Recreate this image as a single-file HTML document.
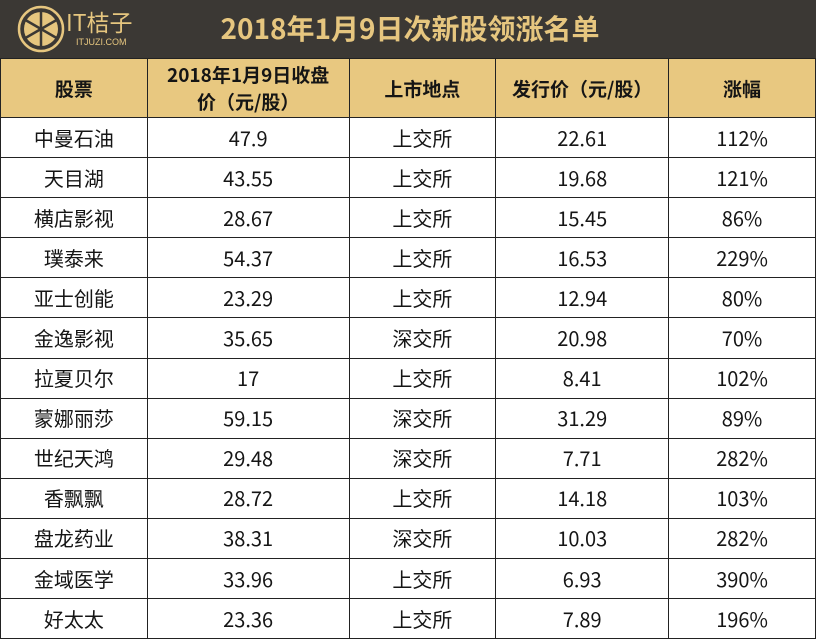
<!DOCTYPE html>
<html><head><meta charset="utf-8"><style>
*{margin:0;padding:0;box-sizing:border-box}
body{width:818px;height:641px;background:#fff;position:relative;overflow:hidden;font-family:"Noto Sans CJK SC","Liberation Sans",sans-serif}
.bar{position:absolute;left:0;top:0;width:816px;height:59px;background:#3b3834}
.title{position:absolute;left:150px;width:520px;top:8px;text-align:center;color:#e6c67f;font-size:28px;font-weight:bold;line-height:40px}
.logo{position:absolute;left:17px;top:5px}
.lt{position:absolute;left:66px;top:6px;color:#e6c67f;font-size:23px;line-height:30px}
.ls{position:absolute;left:76px;top:37px;color:#e6c67f;font-size:9px;font-family:"Liberation Sans",sans-serif}
table{position:absolute;left:0;top:58px;border-collapse:collapse;width:816px}
td{border:1.5px solid #222;text-align:center;font-size:20px;color:#151515;height:40.1px;padding:0;line-height:24px}
tr.h td{background:#e8c880;font-weight:bold;height:59px;line-height:27px;font-size:19px}
</style></head><body>
<div class="bar"></div>
<svg class="logo" width="48" height="48" viewBox="0 0 48 48">
<circle cx="24" cy="24" r="22" fill="none" stroke="#e6c67f" stroke-width="2.5"/>
<circle cx="24" cy="24" r="17" fill="#e6c67f"/>
<g stroke="#3b3834" stroke-width="2.5">
<line x1="24" y1="6" x2="24" y2="42"/><line x1="8.4" y1="15" x2="39.6" y2="33"/><line x1="8.4" y1="33" x2="39.6" y2="15"/></g>
</svg>
<div class="lt">IT桔子</div><div class="ls">ITJUZI.COM</div>
<div class="title">2018年1月9日次新股领涨名单</div>
<table>
<colgroup><col style="width:147px"><col style="width:202px"><col style="width:147px"><col style="width:173px"><col style="width:147px"></colgroup>
<tr class="h"><td>股票</td><td>2018年1月9日收盘<br>价（元/股）</td><td>上市地点</td><td>发行价（元/股）</td><td>涨幅</td></tr>
<tr><td>中曼石油</td><td>47.9</td><td>上交所</td><td>22.61</td><td>112%</td></tr>
<tr><td>天目湖</td><td>43.55</td><td>上交所</td><td>19.68</td><td>121%</td></tr>
<tr><td>横店影视</td><td>28.67</td><td>上交所</td><td>15.45</td><td>86%</td></tr>
<tr><td>璞泰来</td><td>54.37</td><td>上交所</td><td>16.53</td><td>229%</td></tr>
<tr><td>亚士创能</td><td>23.29</td><td>上交所</td><td>12.94</td><td>80%</td></tr>
<tr><td>金逸影视</td><td>35.65</td><td>深交所</td><td>20.98</td><td>70%</td></tr>
<tr><td>拉夏贝尔</td><td>17</td><td>上交所</td><td>8.41</td><td>102%</td></tr>
<tr><td>蒙娜丽莎</td><td>59.15</td><td>深交所</td><td>31.29</td><td>89%</td></tr>
<tr><td>世纪天鸿</td><td>29.48</td><td>深交所</td><td>7.71</td><td>282%</td></tr>
<tr><td>香飘飘</td><td>28.72</td><td>上交所</td><td>14.18</td><td>103%</td></tr>
<tr><td>盘龙药业</td><td>38.31</td><td>深交所</td><td>10.03</td><td>282%</td></tr>
<tr><td>金域医学</td><td>33.96</td><td>上交所</td><td>6.93</td><td>390%</td></tr>
<tr><td>好太太</td><td>23.36</td><td>上交所</td><td>7.89</td><td>196%</td></tr>
</table>
</body></html>
